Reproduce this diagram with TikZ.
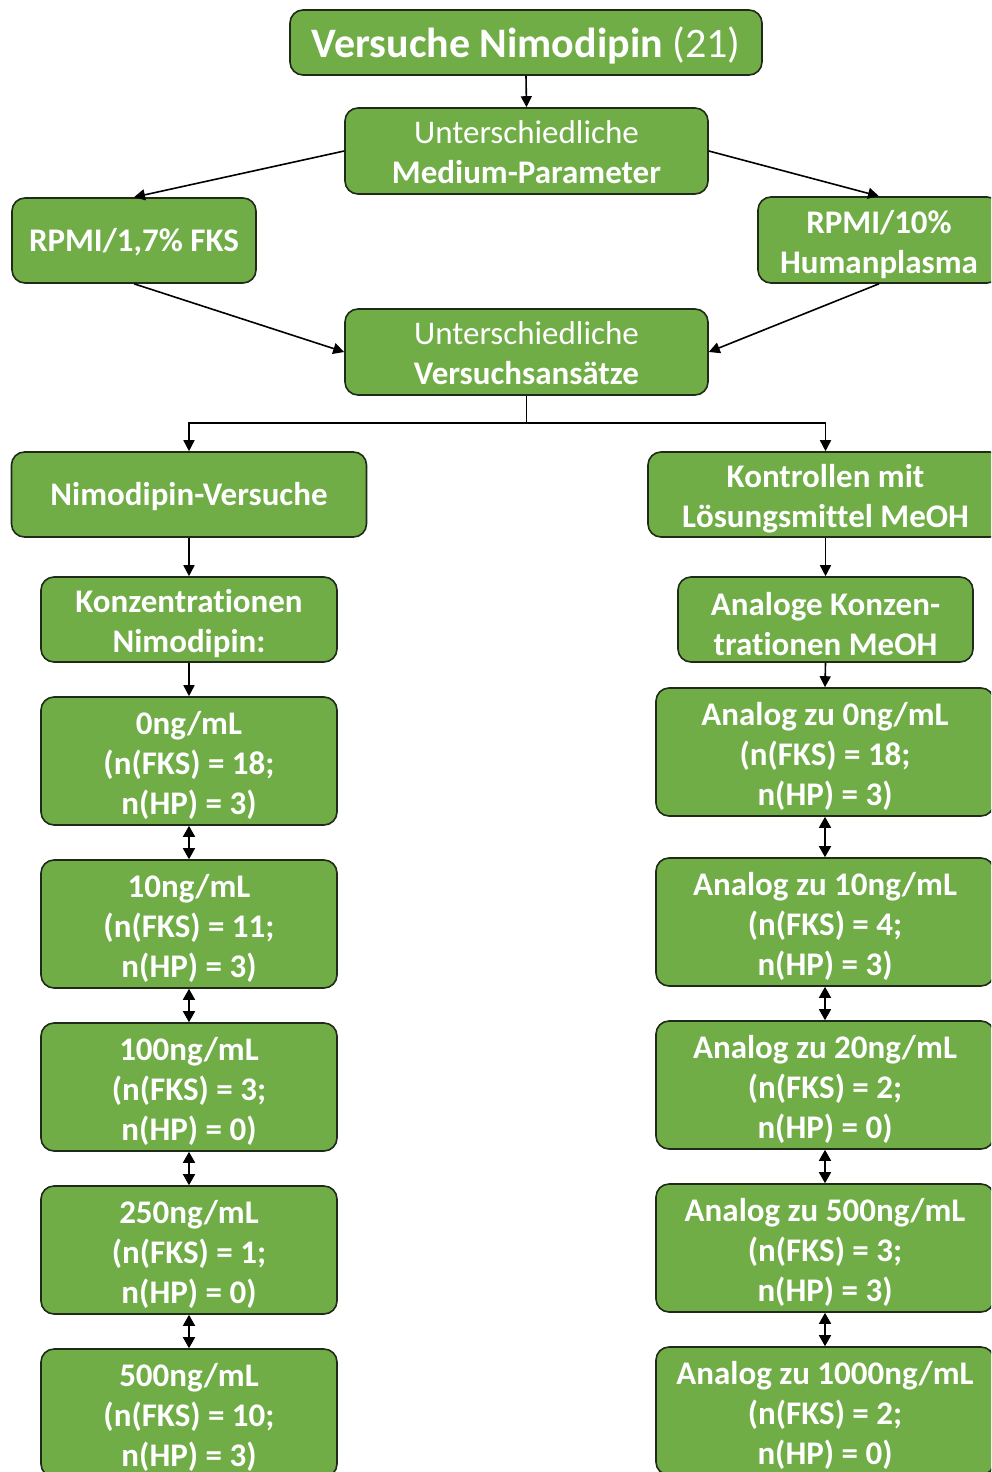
\documentclass[tikz,border=0pt]{standalone}
\usepackage{fontspec}
\setmainfont{Carlito}[Ligatures=NoCommon]
\usetikzlibrary{arrows.meta}
\definecolor{boxgreen}{HTML}{70AD47}
\definecolor{boxline}{HTML}{1F2A18}
% invisible struts that push the first line of a box label down a little
\newcommand\liftmulti{\rule{0pt}{31.5pt}}
\newcommand\liftlight{\rule{0pt}{26pt}}
\newcommand\liftsingle{\rule{0pt}{26.5pt}}
\newcommand\lifttitle{\rule{0pt}{37pt}}
\begin{document}
\begin{tikzpicture}[x=1pt, y=-1pt,
  box/.style={draw=boxline, fill=boxgreen, line width=1.6pt, rounded corners=13pt,
    text=white, align=center, inner sep=0pt,
    font=\fontsize{33}{40}\selectfont\bfseries},
  link/.style={line width=1.6pt, draw=black},
  arr/.style={link, -{Triangle[length=11pt,width=11pt]}},
  darr/.style={link, {Triangle[length=11pt,width=12pt]}-{Triangle[length=11pt,width=12pt]}}]
\clip (0,0) rectangle (991,1472);
\fill[white] (0,0) rectangle (991,1472);

% upper part
\node[box, minimum width=472pt, minimum height=65pt, font=\fontsize{42}{48}\selectfont]
  (title) at (526,42.5) {\lifttitle\bfseries Versuche Nimodipin\mdseries{} (21)};
\node[box, minimum width=363pt, minimum height=86pt] (med) at (526.5,151)
  {\liftlight\mdseries Unterschiedliche\\Medium-Parameter};
\node[box, minimum width=244pt, minimum height=85pt] (fks) at (134,240.5) {\liftsingle RPMI/1,7\% FKS};
\node[box, minimum width=242pt, minimum height=86pt] (hp) at (879,240) {\liftmulti RPMI/10\%\\Humanplasma};
\node[box, minimum width=363pt, minimum height=86pt] (ans) at (526.5,352)
  {\liftlight\mdseries Unterschiedliche\\Versuchsansätze};

% two branches
\node[box, minimum width=355pt, minimum height=85pt] (nv) at (189,494.5) {\liftsingle Nimodipin-Versuche};
\node[box, minimum width=355pt, minimum height=85pt] (ko) at (825.5,494.5)
  {\liftmulti Kontrollen mit\\Lösungsmittel MeOH};
\node[box, minimum width=296pt, minimum height=85pt] (kn) at (189,619.5)
  {\liftmulti Konzentrationen\\Nimodipin:};
\node[box, minimum width=295pt, minimum height=85pt] (am) at (825.5,619.5)
  {\liftmulti Analoge Konzen-\\trationen MeOH};

% concentration series
\node[box, minimum width=296pt, minimum height=128pt] (l1) at (189,761) {\liftmulti 0ng/mL\\(n(FKS) = 18;\\n(HP) = 3)};
\node[box, minimum width=296pt, minimum height=128pt] (l2) at (189,924) {\liftmulti 10ng/mL\\(n(FKS) = 11;\\n(HP) = 3)};
\node[box, minimum width=296pt, minimum height=128pt] (l3) at (189,1087) {\liftmulti 100ng/mL\\(n(FKS) = 3;\\n(HP) = 0)};
\node[box, minimum width=296pt, minimum height=128pt] (l4) at (189,1250) {\liftmulti 250ng/mL\\(n(FKS) = 1;\\n(HP) = 0)};
\node[box, minimum width=296pt, minimum height=128pt] (l5) at (189,1413) {\liftmulti 500ng/mL\\(n(FKS) = 10;\\n(HP) = 3)};

\node[box, minimum width=338pt, minimum height=128pt] (r1) at (825,752) {\liftmulti Analog zu 0ng/mL\\(n(FKS) = 18;\\n(HP) = 3)};
\node[box, minimum width=338pt, minimum height=128pt] (r2) at (825,922) {\liftmulti Analog zu 10ng/mL\\(n(FKS) = 4;\\n(HP) = 3)};
\node[box, minimum width=338pt, minimum height=128pt] (r3) at (825,1085) {\liftmulti Analog zu 20ng/mL\\(n(FKS) = 2;\\n(HP) = 0)};
\node[box, minimum width=338pt, minimum height=128pt] (r4) at (825,1248) {\liftmulti Analog zu 500ng/mL\\(n(FKS) = 3;\\n(HP) = 3)};
\node[box, minimum width=338pt, minimum height=128pt] (r5) at (825,1411) {\liftmulti Analog zu 1000ng/mL\\(n(FKS) = 2;\\n(HP) = 0)};

% connectors
\draw[arr] (title.south) -- (med.north);
\draw[arr] (med.west) -- (fks.north);
\draw[arr] (med.east) -- (hp.north);
\draw[arr] (fks.south) -- (ans.west);
\draw[arr] (hp.south) -- (ans.east);
\coordinate (fork) at (526.5,423);
\draw[link] (ans.south) -- (fork);
\draw[arr] (fork) -| (nv.north);
\draw[arr] (fork) -| (ko.north);
\draw[arr] (nv.south) -- (kn.north);
\draw[arr] (kn.south) -- (l1.north);
\draw[arr] (ko.south) -- (am.north);
\draw[arr] (am.south) -- (r1.north);
\draw[darr] (l1.south) -- (l2.north);
\draw[darr] (l2.south) -- (l3.north);
\draw[darr] (l3.south) -- (l4.north);
\draw[darr] (l4.south) -- (l5.north);
\draw[darr] (r1.south) -- (r2.north);
\draw[darr] (r2.south) -- (r3.north);
\draw[darr] (r3.south) -- (r4.north);
\draw[darr] (r4.south) -- (r5.north);
\end{tikzpicture}
\end{document}
